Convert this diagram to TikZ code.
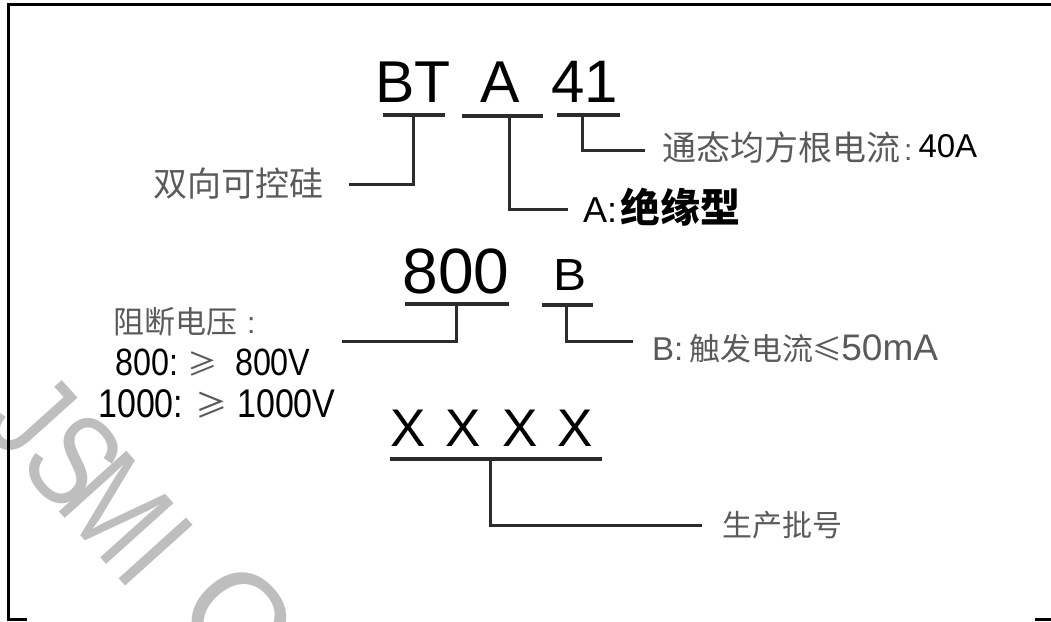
\documentclass[tikz,border=0pt]{standalone}
\usepackage{fontspec}
\setmainfont{Liberation Sans}
\newfontfamily\cjk{Noto Sans CJK SC}
\newfontfamily\narrowsans{Liberation Sans}[FakeStretch=0.85]
\definecolor{txtgray}{HTML}{5A5A5A}
\definecolor{linegray}{HTML}{2C2C2C}
\definecolor{wmgray}{HTML}{BEBEBE}
\newcommand{\fsz}[1]{\fontsize{#1}{#1}\selectfont}
\newcommand{\wmbox}[2]{\makebox[#1pt][c]{\scalebox{0.8}[1]{#2}}}
\begin{document}
\begin{tikzpicture}[x=1pt,y=-1pt,
  big/.style={anchor=base, inner sep=0pt, text=black},
  uline/.style={line width=3.6pt, draw=linegray},
  conn/.style={line width=3pt, draw=linegray},
  lbl/.style={inner sep=0pt, text=txtgray},
  wm/.style={text=wmgray, font=\fsz{132}, rotate=-48, inner sep=0pt},
  frameline/.style={line width=3pt, draw=black}]
\useasboundingbox (0,0) rectangle (1051,621);

% watermark
\node[wm] (wmark) at (150,533)
  {\wmbox{60}{J}\wmbox{64}{S}\wmbox{64}{M}\wmbox{54}{I}\makebox[152pt][c]{\raisebox{16pt}{C}}};

% frame
\draw[frameline] (1051,4) -- (8,4) -- (8,619) -- (27,619);
\draw[frameline] (1035,619) -- (1051,619);

% ---- row 1: BT A 41
\node[big, font=\fsz{59}] (BT) at (413,102) {BT};
\node[big, font=\fsz{59}] (A) at (500,102) {A};
\node[big, font=\fsz{60}] (n41) at (585,102) {41};

\coordinate (uBTl) at (383,115); \coordinate (uBTr) at (445,115);
\coordinate (uBTm) at (413,115); \coordinate (eBT) at (349,184);
\draw[uline] (uBTl) -- (uBTr);
\draw[conn] (uBTm) |- (eBT);
\node[lbl, anchor=east, font=\cjk\fsz{34}] (lBT) at (324,184) {双向可控硅};

\coordinate (uAl) at (462,116); \coordinate (uAr) at (543,116);
\coordinate (uAm) at (509,116); \coordinate (eA) at (568,209);
\draw[uline] (uAl) -- (uAr);
\draw[conn] (uAm) |- (eA);
\node[lbl, anchor=base west, text=black] (lA) at (583,222)
  {{\fsz{36}A:}\hspace{3pt}{\cjk\bfseries\fsz{40}绝缘型}};

\coordinate (u41l) at (557,115); \coordinate (u41r) at (620,115);
\coordinate (u41m) at (582,115); \coordinate (e41) at (645,150);
\draw[uline] (u41l) -- (u41r);
\draw[conn] (u41m) |- (e41);
\node[lbl, anchor=base west] (l41) at (662,160)
  {{\cjk\fsz{34}通态均方根电流}\hspace{4pt}{\fsz{30}:}\hspace{6pt}{\color{black}\raisebox{3pt}{\fsz{33}40A}}};

% ---- row 2: 800 B
\node[big, font=\fsz{64}] (n800) at (456,293) {800};
\node[big, font=\fsz{45}] (B) at (570,290) {\scalebox{1.1}[1]{B}};

\coordinate (u800l) at (405,304); \coordinate (u800r) at (509,304);
\coordinate (u800m) at (456,304); \coordinate (e800) at (342,341);
\draw[uline] (u800l) -- (u800r);
\draw[conn] (u800m) |- (e800);
\node[lbl, anchor=west, font=\cjk\fsz{31}] (l800a) at (113,322)
  {阻断电压\hspace{10pt}{\fontspec{Liberation Sans}\fsz{30}:}};
\node[lbl, anchor=base west, text=black] (l800b) at (115,375)
  {{\narrowsans\fsz{38}800:}\makebox[57pt][l]{\hspace{9pt}\color{txtgray}\cjk\fsz{30}≥}{\narrowsans\fsz{38}800V}};
\node[lbl, anchor=base west, text=black] (l800c) at (98,417)
  {{\narrowsans\fsz{40}1000:}\makebox[54pt][l]{\hspace{12pt}\color{txtgray}\cjk\fsz{32}≥}{\narrowsans\fsz{40}1000V}};

\coordinate (uBl) at (542,305); \coordinate (uBr) at (593,305);
\coordinate (uBm) at (566,305); \coordinate (eB) at (633,341);
\draw[uline] (uBl) -- (uBr);
\draw[conn] (uBm) |- (eB);
\node[lbl, anchor=base west] (lB) at (652,360)
  {{\fsz{33}B:}\hspace{6pt}{\cjk\fsz{31}触发电流}\makebox[28pt][c]{\cjk\fsz{30}≤}{\fsz{37}50mA}};

% ---- row 3: XXXX
\node[big, font=\fsz{53}] (X1) at (408,446) {X};
\node[big, font=\fsz{53}] (X2) at (463,446) {X};
\node[big, font=\fsz{53}] (X3) at (520,446) {X};
\node[big, font=\fsz{53}] (X4) at (575,446) {X};

\coordinate (uXl) at (390,459); \coordinate (uXr) at (602,459);
\coordinate (uXm) at (490,459); \coordinate (eX) at (702,525);
\draw[uline, line width=4pt] (uXl) -- (uXr);
\draw[conn] (uXm) |- (eX);
\node[lbl, anchor=west, font=\cjk\fsz{30}] (lX) at (722,525) {生产批号};
\end{tikzpicture}
\end{document}
